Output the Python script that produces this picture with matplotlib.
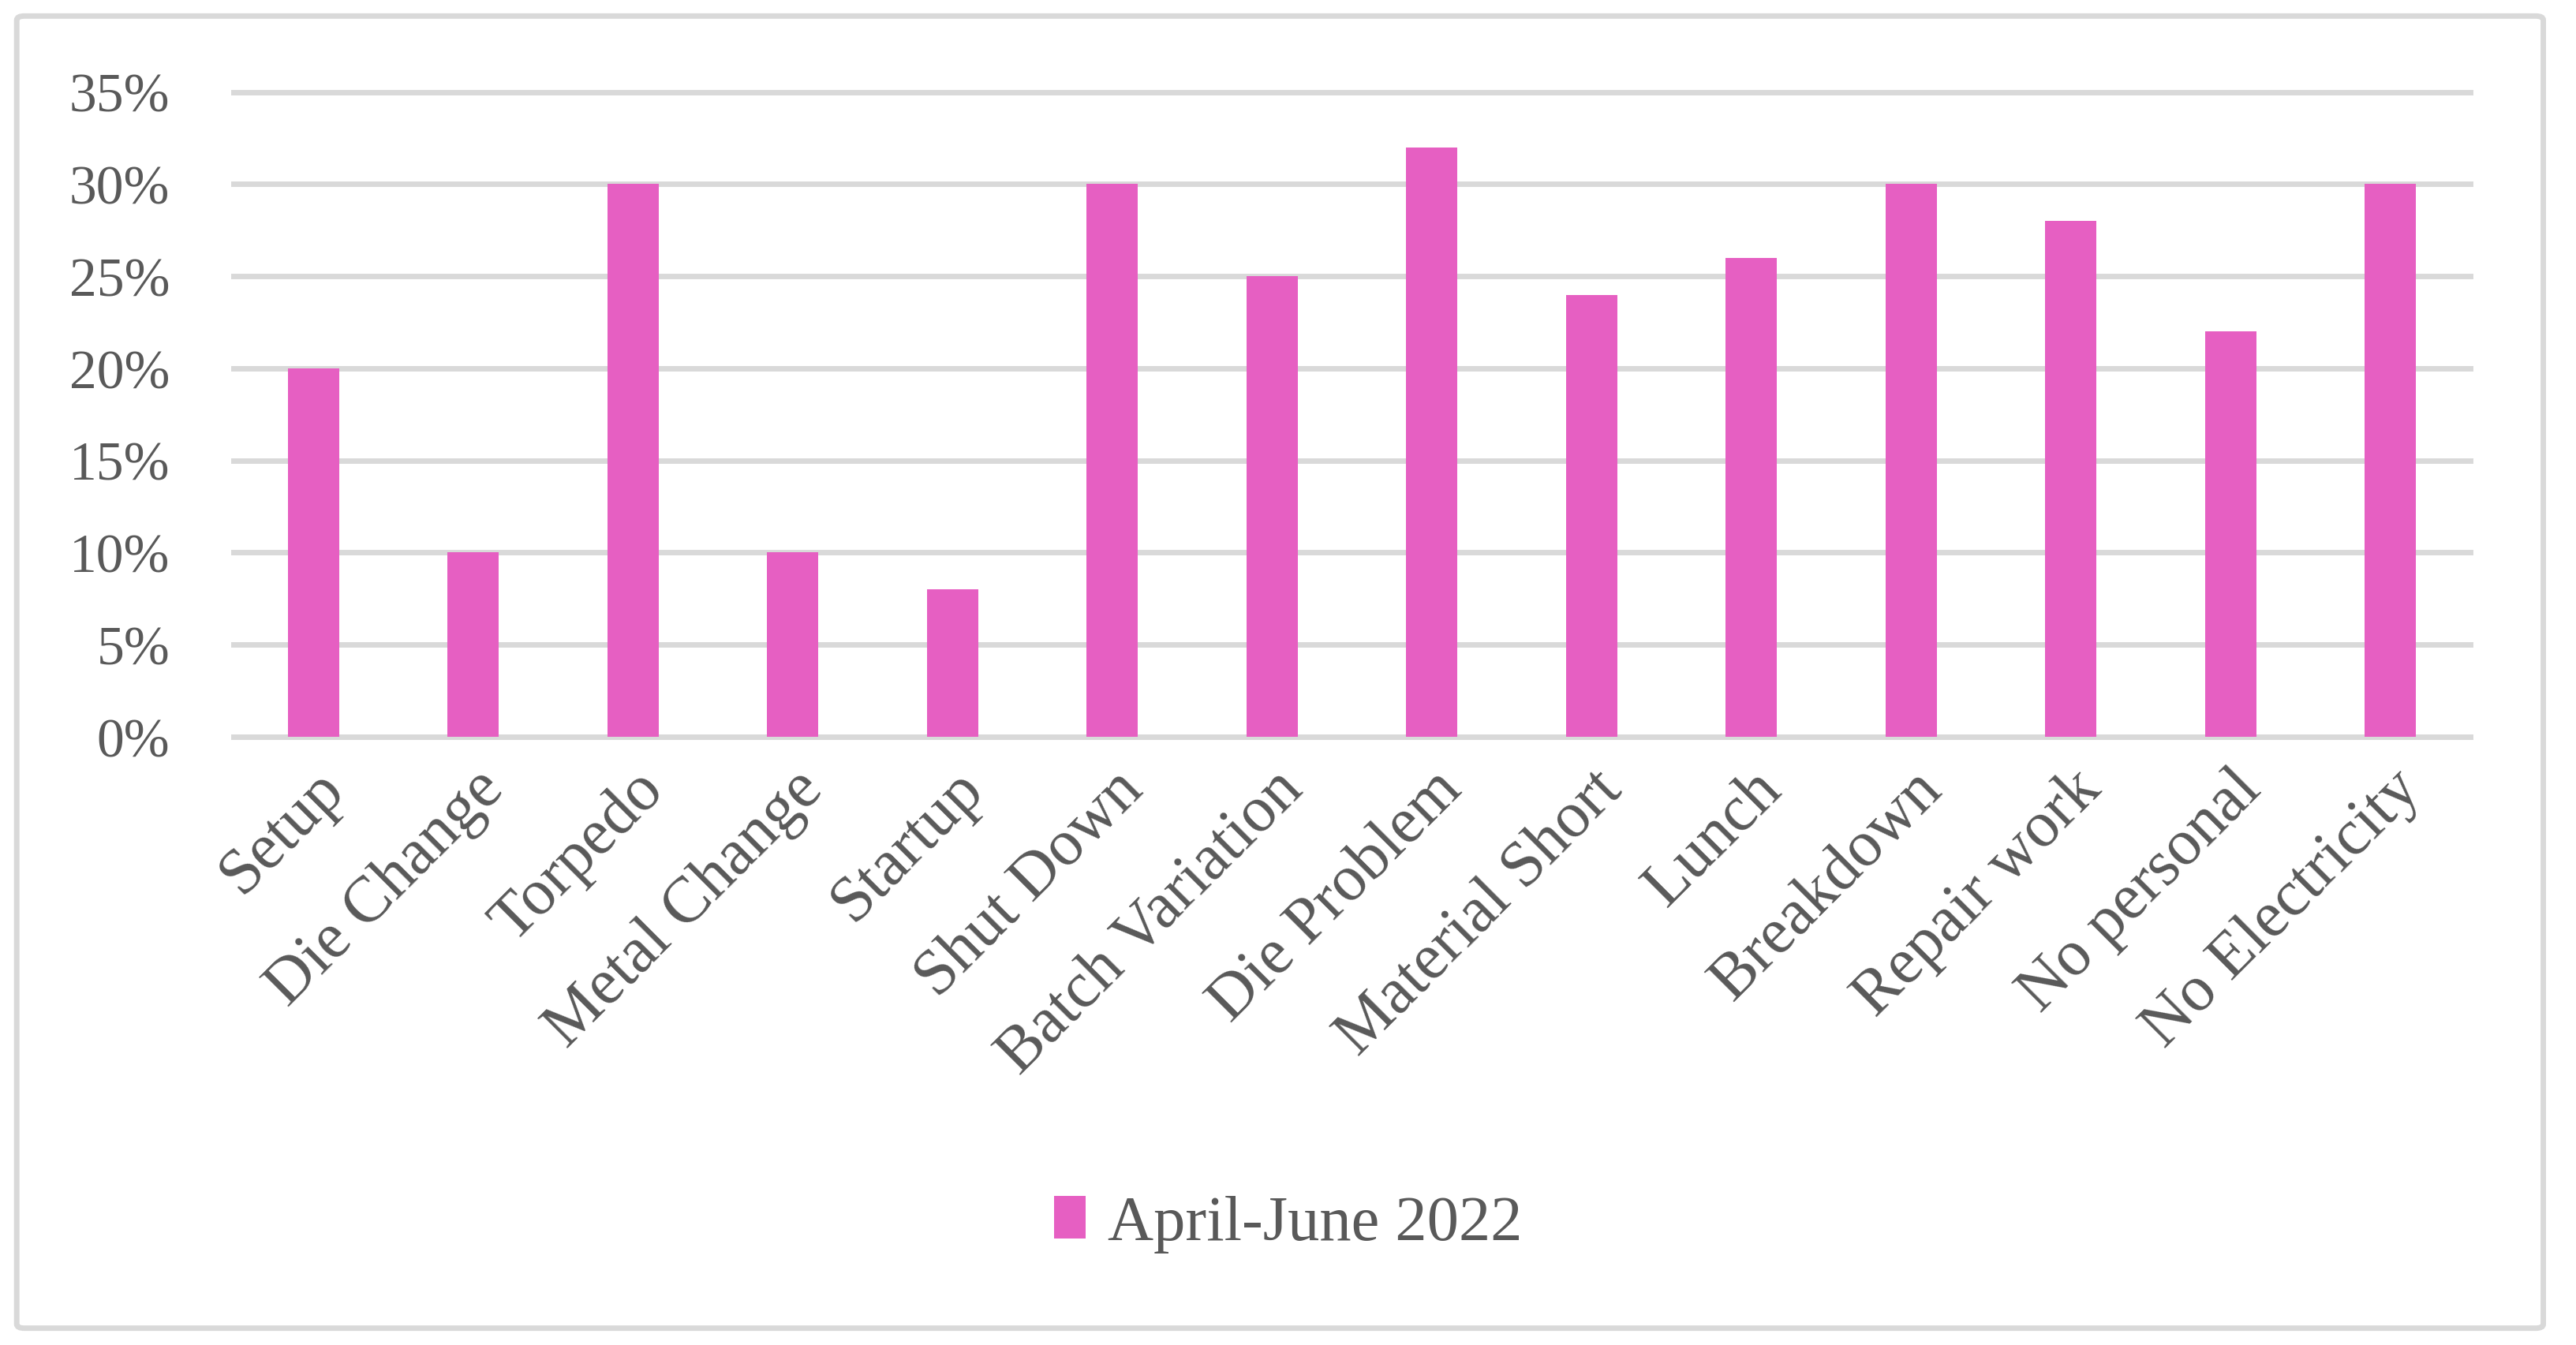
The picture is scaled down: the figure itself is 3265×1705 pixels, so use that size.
import numpy as np
import matplotlib.pyplot as plt
from matplotlib.patches import FancyBboxPatch
from matplotlib.ticker import PercentFormatter

# ----------------------------
# Data
# ----------------------------

categories = ["Setup", "Die Change", "Torpedo", "Metal Change", "Startup",
              "Shut Down", "Batch Variation", "Die Problem", "Material Short",
              "Lunch", "Breakdown", "Repair work", "No personal", "No Electricity"]
values = [20, 10, 30, 10, 8, 30, 25, 32, 24, 26, 30, 28, 22, 30]
series_name = "April-June 2022"
y_ticks = [0, 5, 10, 15, 20, 25, 30, 35]

# ----------------------------
# Style
# ----------------------------

plt.rcParams["font.family"] = ["Liberation Serif", "DejaVu Serif"]
text_color = "#595959"
grid_color = "#d9d9d9"
bar_color = "#E65FC2"

fig = plt.figure(figsize=(32.66, 17.06), dpi=100)
ax = fig.add_axes([0.0906, 0.452, 0.8681, 0.479])

x = np.arange(len(categories))
ax.bar(x, values, width=0.32, color=bar_color, label=series_name, zorder=3)

ax.set_xlim(-0.5, len(categories) - 0.5)
ax.set_ylim(0, 35)
ax.set_yticks(y_ticks)
ax.yaxis.set_major_formatter(PercentFormatter(decimals=0))
ax.yaxis.grid(True, color=grid_color, linewidth=5)
for gl in ax.get_ygridlines():
    gl.set_clip_on(False)
ax.set_axisbelow(True)

for s in ax.spines.values():
    s.set_visible(False)

ax.tick_params(axis="y", length=0, pad=58, labelsize=50, labelcolor=text_color)
ax.tick_params(axis="x", length=0, pad=20, labelsize=59, labelcolor=text_color)
ax.set_xticks(x)
ax.set_xticklabels(categories, rotation=45, ha="right", va="top",
                   rotation_mode="anchor")

fig.legend(loc="center", bbox_to_anchor=(0.5, 0.09), frameon=False,
           fontsize=58, labelcolor=text_color, handlelength=0.5,
           handleheight=0.65, handletextpad=0.35)

# outer frame
frame = FancyBboxPatch((0.0065, 0.0125), 0.9805, 0.975,
                       boxstyle="round,pad=0,rounding_size=0.003",
                       transform=fig.transFigure, fill=False,
                       edgecolor=grid_color, linewidth=5)
fig.patches.append(frame)

fig.savefig("out.png", dpi=100, facecolor="white")
